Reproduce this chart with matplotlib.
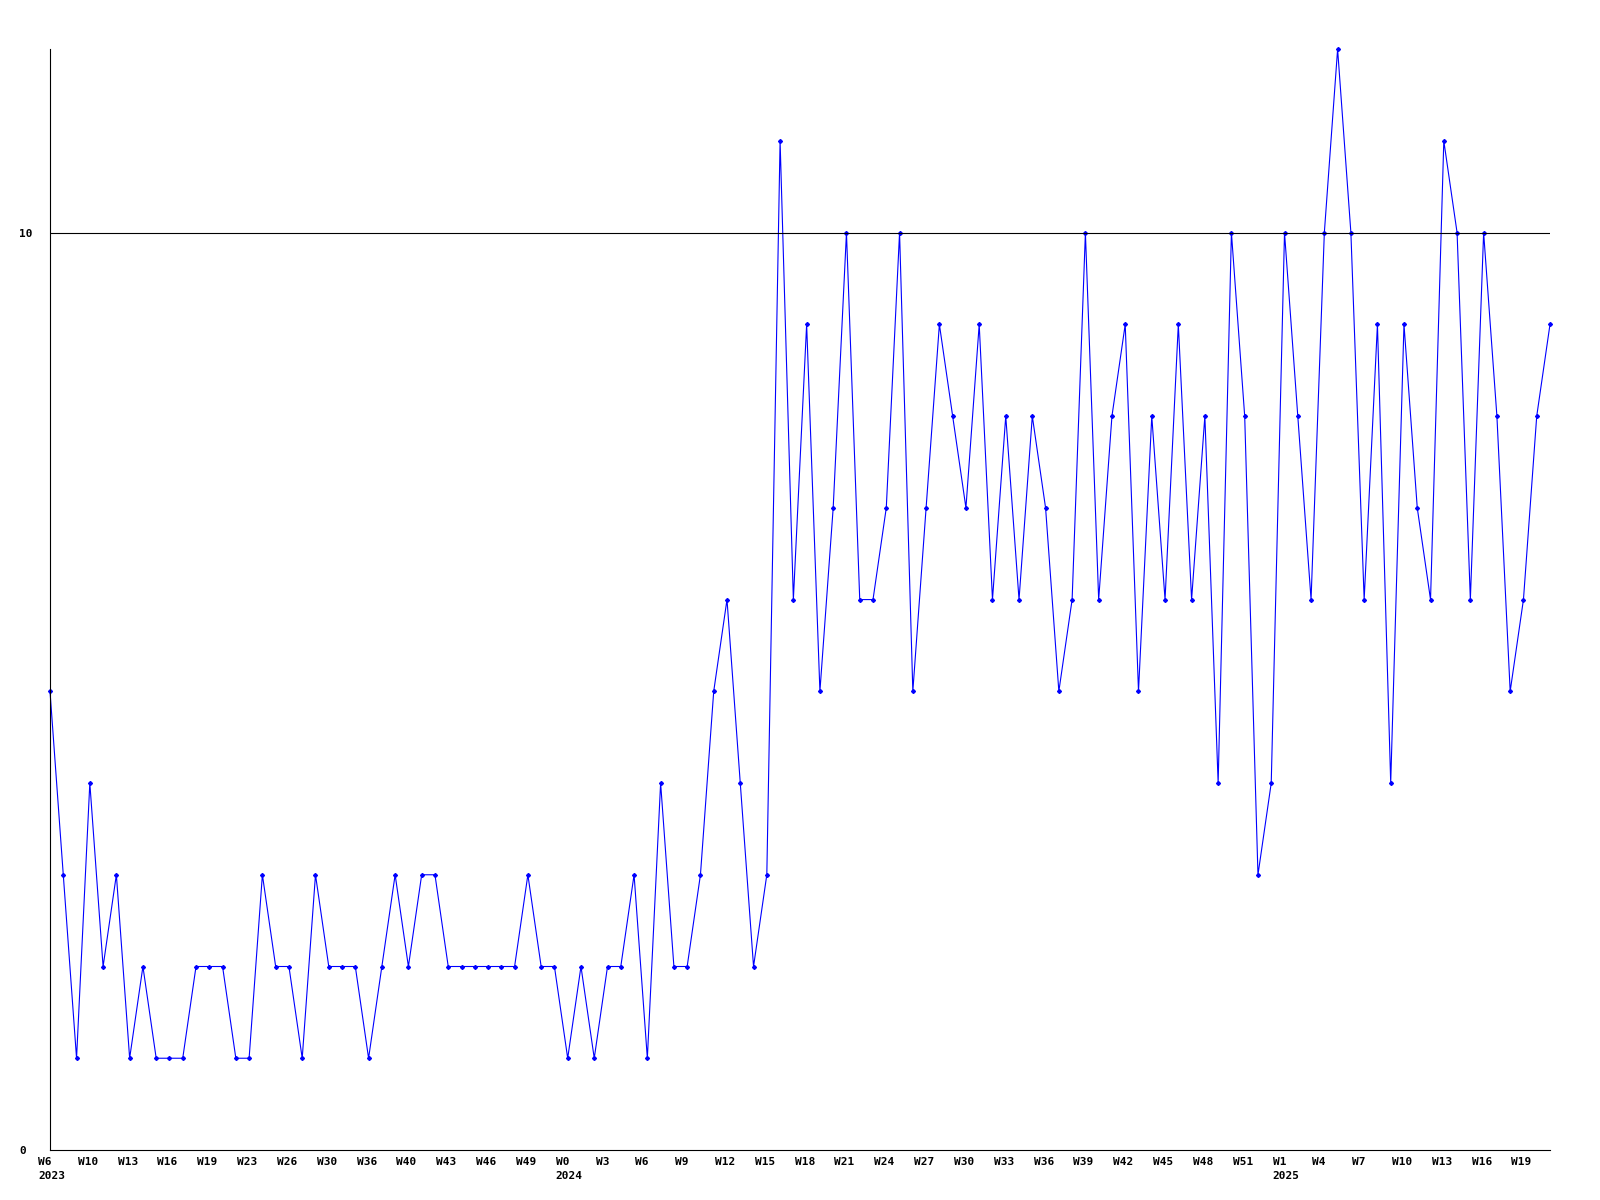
import matplotlib.pyplot as plt
from matplotlib.transforms import ScaledTranslation

values = [5, 3, 1, 4, 2, 3, 1, 2, 1, 1, 1, 2, 2, 2, 1, 1, 3, 2, 2, 1,
          3, 2, 2, 2, 1, 2, 3, 2, 3, 3, 2, 2, 2, 2, 2, 2, 3, 2, 2, 1,
          2, 1, 2, 2, 3, 1, 4, 2, 2, 3, 5, 6, 4, 2, 3, 11, 6, 9, 5, 7,
          10, 6, 6, 7, 10, 5, 7, 9, 8, 7, 9, 6, 8, 6, 8, 7, 5, 6, 10, 6,
          8, 9, 5, 8, 6, 9, 6, 8, 4, 10, 8, 3, 4, 10, 8, 6, 10, 12, 10, 6,
          9, 4, 9, 7, 6, 11, 10, 6, 10, 8, 5, 6, 8, 9]

# one label every 3 points
tick_weeks = ['W6', 'W10', 'W13', 'W16', 'W19', 'W23', 'W26', 'W30', 'W36', 'W40',
              'W43', 'W46', 'W49', 'W0', 'W3', 'W6', 'W9', 'W12', 'W15', 'W18',
              'W21', 'W24', 'W27', 'W30', 'W33', 'W36', 'W39', 'W42', 'W45', 'W48',
              'W51', 'W1', 'W4', 'W7', 'W10', 'W13', 'W16', 'W19']
year_labels = {0: '2023', 13: '2024', 31: '2025'}

fig = plt.figure(figsize=(16, 12), dpi=100)
ax = fig.add_axes([0.03125, 0.0417, 0.9375, 0.9173])

x = list(range(len(values)))
ax.plot(x, values, color='#0000ff', linewidth=0.8, marker='D', markersize=2,
        clip_on=False)
ax.axhline(10, color='black', linewidth=0.8)

ax.set_xlim(0, len(values) - 1)
ax.set_ylim(0, 12)

for s in ['top', 'right']:
    ax.spines[s].set_visible(False)
ax.spines['left'].set_linewidth(0.8)
ax.spines['bottom'].set_linewidth(0.8)

labels = []
for k, w in enumerate(tick_weeks):
    if k in year_labels:
        labels.append(w + '\n' + year_labels[k])
    else:
        labels.append(w)
ax.set_xticks(x[::3])
ax.set_xticklabels(labels, fontfamily='DejaVu Sans Mono', fontweight='bold',
                   fontsize=8, ha='left', linespacing=1.5)
ax.tick_params(axis='x', length=0, pad=5)
shift = ScaledTranslation(-12 / 100, 0, fig.dpi_scale_trans)
for lab in ax.get_xticklabels():
    lab.set_transform(lab.get_transform() + shift)

ax.set_yticks([0, 10])
ax.set_yticklabels(['0', '10'], fontfamily='DejaVu Sans Mono', fontweight='bold',
                   fontsize=8, ha='left')
ax.tick_params(axis='y', length=0, pad=22)

fig.savefig('out.png', dpi=100)
